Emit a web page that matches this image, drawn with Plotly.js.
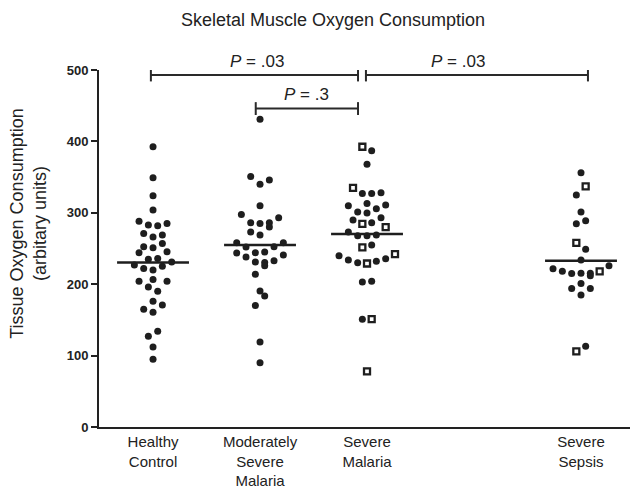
<!DOCTYPE html>
<html>
<head>
<meta charset="utf-8">
<script src="https://cdn.plot.ly/plotly-3.0.1.min.js"></script>
<style>html,body{margin:0;padding:0;background:#fff;}#chart{width:632px;height:492px;}</style>
</head>
<body>
<div id="chart"></div>
<script>
// ---- data ----
const categories = ['Healthy<br>Control', 'Moderately<br>Severe<br>Malaria', 'Severe<br>Malaria', 'Severe<br>Sepsis'];
const categoryPos = [1, 2, 3, 5];

const healthyValues = [392.5,349,324,304,288,283,282,285,271,266,269,252.5,251,257,244,245.5,235,236,227,222,220,225,231,204,206.6,204,196,190,176,171,165,160.6,134,127,112,95];
const healthyJitter = [0,0,0,0,-1.5,-0.5,0.5,1.5,-1,0,1,-1,0,1,-1.5,1.5,-0.5,0.5,-2,-1,0,1,2,-1.5,0,1.5,-0.5,0.5,0,1,-1,0,0.5,-0.5,0,0];

const moderateValues = [431,350.7,340,346,310,297.6,293,286,285,286,280,273,269,258,252,252.5,258,243.7,238,244,245,241,231,230.5,226,233,214,190.6,183.5,170,119,90];
const moderateJitter = [0,-1,0,1,0,-2,2,-1,0,1,1,-1,0,-2.5,-1.5,1.5,2.5,-2.5,-1.5,-0.5,0.5,2.5,-0.5,0.5,0.5,1.5,-0.5,0,0.5,-0.5,0,0];

const severeDotValues = [387,368,327,327,328,310,313,305.6,311,301,299.6,290,286,293,273,268,268,269,255,240,234,230,232,235.6,203,204,151];
const severeDotJitter = [0.5,0,-0.5,0.5,1.5,-2,0,1,2,-1,0,-1.5,0.5,1.5,-2,-1,0,1,0.5,-3,-2,-1,1,2,-0.5,0.5,-0.5];
const severeSquareValues = [392.5,335,284.5,280,251.6,229,242,151,78];
const severeSquareJitter = [-0.5,-1.5,-0.5,2,-0.5,0,3,0.5,0];

const sepsisDotValues = [356,325,301,284.5,288.7,249,234,226,221.6,218,215,215.5,215.5,211.7,201,194,194,185,113];
const sepsisDotJitter = [0,-0.5,0,-0.5,0.5,0.5,0,3,-3,-2,-1,0,1,1,0,-1,1,0,0.5];
const sepsisSquareValues = [337,258,218,106];
const sepsisSquareJitter = [0.5,-0.5,2,-0.5];

const groupMeans = [230.5,255,270.4,233];

const compFrom = [1, 3, 2];
const compTo = [3, 5, 3];
const compLabel = ['.03', '.03', '.3'];
const compLevel = [493, 493, 446];

const yTicks = [0,100,200,300,400,500];

// ---- styling / layout helpers ----
const STEP = 0.0872;      // jitter step in axis units
const HALF = 0.336;       // half-length of mean line
const ink = '#1e1e1e';
const FONT = 'Liberation Sans, Arial, sans-serif';

function xs(pos, jit){ return jit.map(j => pos + j*STEP); }

const dotMarker = {symbol:'circle', size:7, color:ink, line:{width:0}};
const sqMarker = {symbol:'square', size:6, color:'#ffffff', line:{color:ink, width:2.3}};

const traces = [];
traces.push({type:'scatter', mode:'markers', x:xs(categoryPos[0], healthyJitter), y:healthyValues, marker:dotMarker, cliponaxis:false});
traces.push({type:'scatter', mode:'markers', x:xs(categoryPos[1], moderateJitter), y:moderateValues, marker:dotMarker, cliponaxis:false});
traces.push({type:'scatter', mode:'markers', x:xs(categoryPos[2], severeDotJitter), y:severeDotValues, marker:dotMarker, cliponaxis:false});
traces.push({type:'scatter', mode:'markers', x:xs(categoryPos[2], severeSquareJitter), y:severeSquareValues, marker:sqMarker, cliponaxis:false});
traces.push({type:'scatter', mode:'markers', x:xs(categoryPos[3], sepsisDotJitter), y:sepsisDotValues, marker:dotMarker, cliponaxis:false});
traces.push({type:'scatter', mode:'markers', x:xs(categoryPos[3], sepsisSquareJitter), y:sepsisSquareValues, marker:sqMarker, cliponaxis:false});

groupMeans.forEach((m, i) => {
  traces.push({type:'scatter', mode:'lines', x:[categoryPos[i]-HALF, categoryPos[i]+HALF], y:[m, m],
    line:{color:ink, width:2.5}, hoverinfo:'skip'});
});

// bracket end nudges (axis units) and label x positions
const endNudgeL = [-0.02, -0.01, -0.04];
const endNudgeR = [-0.084, 0.065, -0.084];
const labelShift = [0.02, -0.18, 0];
const tickHalf = 9;

const shapes = [];
const annotations = [];
for (let i = 0; i < compFrom.length; i++) {
  const x0 = compFrom[i] + endNudgeL[i];
  const x1 = compTo[i] + endNudgeR[i];
  const yv = compLevel[i];
  const ln = {color:'#2a2a2a', width:2};
  shapes.push({type:'line', xref:'x', yref:'y', x0:x0, x1:x1, y0:yv, y1:yv, line:ln});
  shapes.push({type:'line', xref:'x', yref:'y', x0:x0, x1:x0, y0:yv-tickHalf, y1:yv+tickHalf, line:ln});
  shapes.push({type:'line', xref:'x', yref:'y', x0:x1, x1:x1, y0:yv-tickHalf, y1:yv+tickHalf, line:ln});
  annotations.push({xref:'x', yref:'y', x:(x0+x1)/2 + labelShift[i], y:yv, yshift:14, yanchor:'middle', xanchor:'center',
    text:'<i>P</i> = ' + compLabel[i], showarrow:false, font:{family:FONT, size:17, color:'#222'}});
}
annotations.push({xref:'paper', yref:'paper', x:-0.132, y:0.569, xanchor:'center', yanchor:'middle', textangle:-90,
  text:'Tissue Oxygen Consumption<br>(arbitary units)', showarrow:false, font:{family:FONT, size:18, color:'#222'}});

const layout = {
  width:632, height:492,
  margin:{l:99, r:2, t:70, b:65},
  paper_bgcolor:'#fff', plot_bgcolor:'#fff',
  showlegend:false,
  title:{text:'Skeletal Muscle Oxygen Consumption', x:0.527, xref:'container', xanchor:'center', y:0.959, yref:'container', yanchor:'middle',
    font:{family:FONT, size:18, color:'#222'}},
  xaxis:{range:[0.495, 5.458], showgrid:false, zeroline:false, showline:true, linecolor:'#222', linewidth:2,
    tickvals:categoryPos, ticktext:categories, ticks:'', tickfont:{family:FONT, size:15, color:'#222'}},
  yaxis:{range:[0, 500], showgrid:false, zeroline:false, showline:true, linecolor:'#222', linewidth:2,
    tickvals:yTicks, ticks:'outside', ticklen:6, tickwidth:2, tickcolor:'#222',
    tickfont:{family:FONT, size:13, color:'#222', weight:'bold'}},
  shapes:shapes,
  annotations:annotations
};

Plotly.newPlot('chart', traces, layout, {displayModeBar:false, staticPlot:true});
</script>
</body>
</html>
